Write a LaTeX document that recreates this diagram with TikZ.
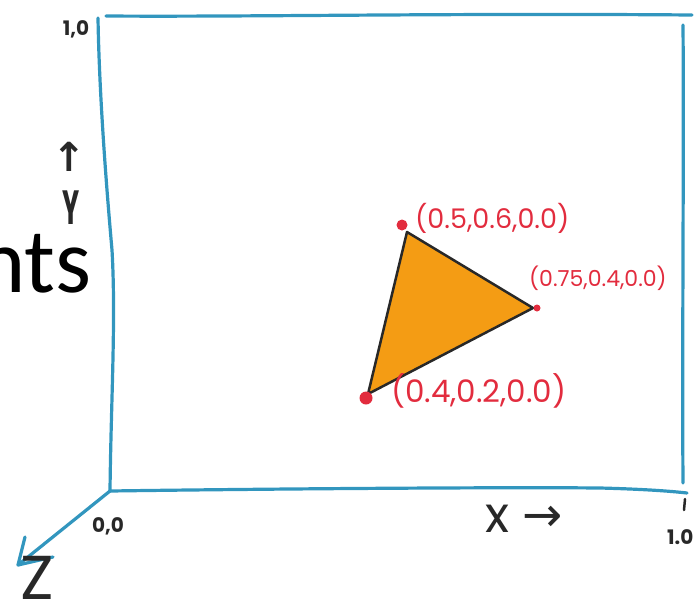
\documentclass[tikz,border=0pt]{standalone}
\usepackage{fontspec}
\setmainfont{Poppins}
\newfontfamily\slidefont{Carlito}
\newfontfamily\arrowfont{DejaVu Sans}
\usetikzlibrary{calc}
\definecolor{frameblue}{RGB}{50,150,190}
\definecolor{ptred}{RGB}{226,44,62}
\definecolor{triorange}{RGB}{244,156,20}
\definecolor{ink}{RGB}{40,40,40}
\tikzset{
  frameline/.style={draw=frameblue, line width=3.2pt, line cap=round, line join=round},
  hand/.style={text=ink, inner sep=0pt},
  ptlabel/.style={text=ptred, inner sep=0pt, anchor=west},
  ptdot/.style={circle, fill=ptred, inner sep=0pt, minimum size=11pt},
}
\begin{document}
\begin{tikzpicture}[x=1pt,y=-1pt]
\useasboundingbox (0,0) rectangle (695,606);
% slide text remnant
\node[anchor=base east, inner sep=0pt, font=\slidefont\fontsize{92}{92}\selectfont] (nts) at (92,292) {nts};
% frame
\coordinate (o) at (110,491);
\coordinate (tl) at (98,18);
\coordinate (tr) at (692,15);
\coordinate (rt) at (683,25);
\coordinate (rb) at (683,483);
\coordinate (br) at (687,493);
\coordinate (ztip) at (18,565);
\coordinate (tickA) at (685,499);
\coordinate (tickB) at (684,510);
\draw[frameline] (o) .. controls (111,400) and (116,320) .. (112,250) .. controls (104,160) and (99,80) .. (tl);
\draw[frameline] (106,16) .. controls (250,17) and (450,13) .. (tr);
\draw[frameline] (rt) .. controls (684,150) and (682,350) .. (rb);
\draw[frameline] (o) .. controls (250,489) and (500,487) .. (600,488) .. controls (640,489) and (670,491) .. (br);
\draw[frameline] (o) -- (ztip);
\draw[frameline] (25,537) -- (ztip) -- (53,557);
\draw[draw=ink, line width=2.5pt, line cap=round] (tickA) -- (tickB);
% axis labels
\node[hand, font=\fontsize{20}{20}\selectfont\bfseries] (lab10) at (76,29) {1,0};
\node[hand, font=\arrowfont\fontsize{40}{40}\selectfont\bfseries] (yarrow) at (69,157) {↑};
\node[hand, font=\fontsize{30}{30}\selectfont\bfseries] (ylab) at (71,208) {\scalebox{0.85}[1.6]{Y}};
\node[hand, font=\fontsize{20}{20}\selectfont\bfseries] (lab00) at (108,526) {0,0};
\node[hand, font=\fontsize{50}{50}\selectfont] (xlab) at (497,519) {x};
\node[hand, font=\arrowfont\fontsize{48}{48}\selectfont] (xarrow) at (543,519) {→};
\node[hand, anchor=west, font=\fontsize{20}{20}\selectfont\bfseries] (labx1) at (667,537) {1.0};
\node[hand, anchor=north west, font=\fontsize{62}{62}\selectfont] (zlab) at (20,556) {Z};
% triangle
\coordinate (va) at (407,232);
\coordinate (vb) at (533,308);
\coordinate (vc) at (368,394);
\filldraw[fill=triorange, draw=ink, line width=2.5pt, line join=round] (va) -- (vb) -- (vc) -- cycle;
\node[ptdot] (da) at (402,225) {};
\node[ptdot, minimum size=7pt] (db) at (537,308) {};
\node[ptdot, minimum size=13pt] (dc) at (366,398) {};
\node[ptlabel, font=\fontsize{27}{27}\selectfont] (la) at (415,218) {(0.5,0.6,0.0)};
\node[ptlabel, font=\fontsize{22}{22}\selectfont] (lb) at (529,278) {(0.75,0.4,0.0)};
\node[ptlabel, font=\fontsize{31}{31}\selectfont] (lc) at (391,391) {(0.4,0.2,0.0)};
\end{tikzpicture}
\end{document}
